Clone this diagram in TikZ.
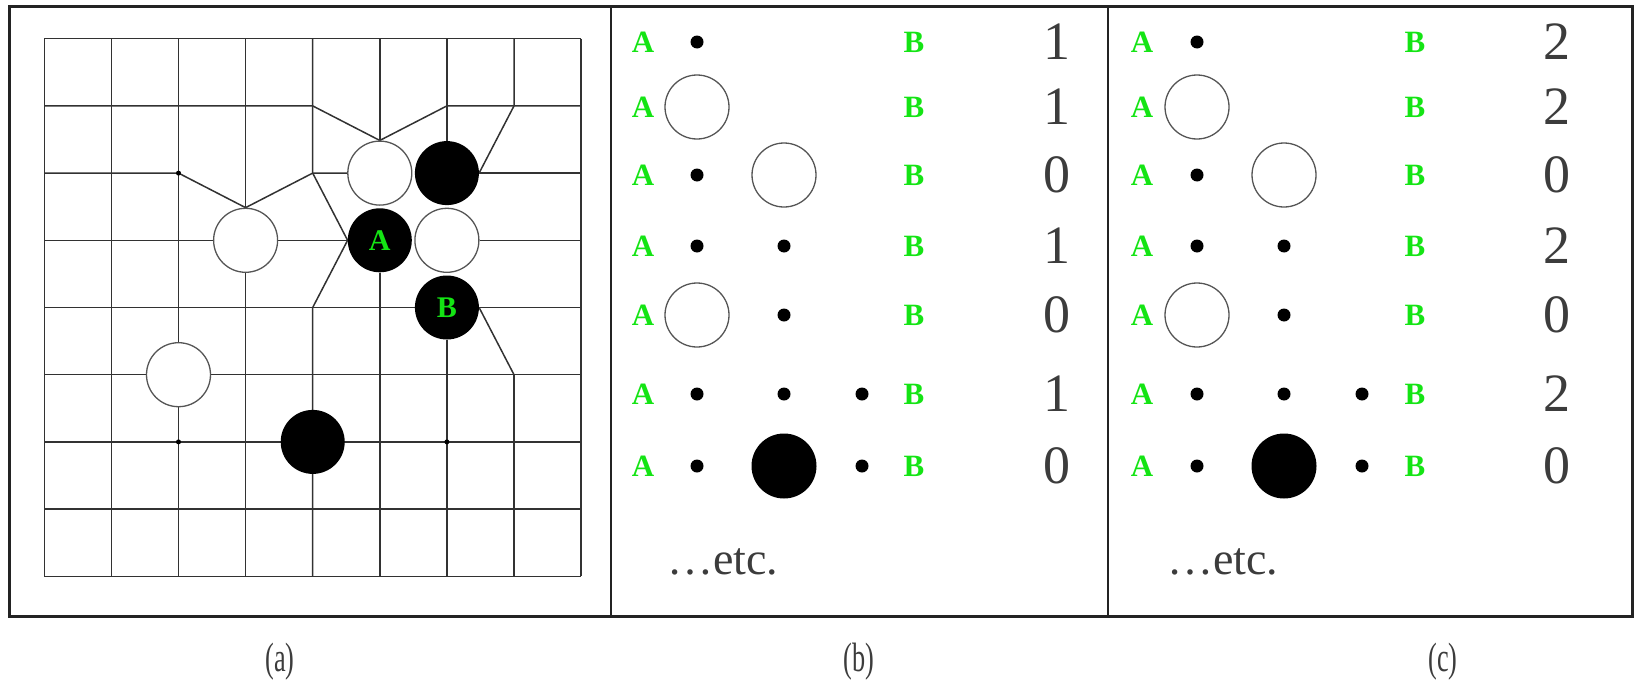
\documentclass[tikz,border=0pt]{standalone}
\usepackage{fontspec}
\setmainfont{Liberation Serif}
\usetikzlibrary{backgrounds}
\definecolor{ggreen}{RGB}{20,228,20}
\definecolor{txtgray}{RGB}{60,60,60}
\definecolor{gridcol}{RGB}{50,50,50}
\definecolor{stonecol}{RGB}{85,85,85}
\definecolor{framecol}{RGB}{35,35,35}
\begin{document}
\begin{tikzpicture}[x=1pt,y=-1pt,
  gridline/.style={line width=1.5pt, draw=gridcol, line join=round},
  wstone/.style={circle, draw=stonecol, line width=1.3pt, fill=white, minimum size=64pt, inner sep=0pt},
  bstone/.style={circle, fill=black, minimum size=64pt, inner sep=0pt, text=ggreen, font=\fontsize{30}{32}\selectfont\bfseries},
  starpt/.style={circle, fill=black, minimum size=5pt, inner sep=0pt},
  dotpt/.style={circle, fill=black, minimum size=13pt, inner sep=0pt},
  wcirc/.style={circle, draw=stonecol, line width=1.3pt, fill=white, minimum size=64pt, inner sep=0pt},
  bcirc/.style={circle, fill=black, minimum size=65pt, inner sep=0pt},
  ablabel/.style={text=ggreen, inner sep=0pt, font=\fontsize{31}{33}\selectfont\bfseries},
  numlabel/.style={text=txtgray, inner sep=0pt, font=\fontsize{54}{58}\selectfont},
  etclabel/.style={text=txtgray, inner sep=0pt, anchor=base west, font=\fontsize{46}{50}\selectfont},
  caplabel/.style={text=txtgray, inner sep=0pt, xscale=0.64, font=\fontsize{41}{44}\selectfont}]
\useasboundingbox (0,0) rectangle (1637,696);
% frame
\draw[line width=3pt, draw=framecol] (9,6) rectangle (1632,616);
\draw[line width=2pt, draw=framecol] (611,6) -- (611,616);
\draw[line width=2pt, draw=framecol] (1108,6) -- (1108,616);
% ---------------- panel (a) ----------------
\begin{scope}[shift={(44.3pt,-38.7pt)}, x=67.1pt, y=-67.2pt]
  \node[wstone] (w52) at (5,2) {};
  \node[bstone] (b62) at (6,2) {};
  \node[wstone] (w33) at (3,3) {};
  \node[bstone] (A) at (5,3) {A};
  \node[wstone] (w63) at (6,3) {};
  \node[bstone] (B) at (6,4) {B};
  \node[wstone] (w25) at (2,5) {};
  \node[bstone] (b46) at (4,6) {};
  \coordinate (j41) at (4,1);
  \coordinate (j61) at (6,1);
  \coordinate (j71) at (7,1);
  \coordinate (j22) at (2,2);
  \coordinate (j42) at (4,2);
  \coordinate (j44) at (4,4);
  \coordinate (j75) at (7,5);
  \begin{pgfonlayer}{background}
    \foreach \j in {0,6,7,8} \draw[gridline] (0,\j) -- (8,\j);
    \foreach \i in {0,1,8} \draw[gridline] (\i,0) -- (\i,8);
    % rows
    \draw[gridline] (0,1) -- (j41) -- (w52.north) -- (j61) -- (8,1);
    \draw[gridline] (0,2) -- (j22) -- (w33.north) -- (j42) -- (w52.west);
    \draw[gridline] (b62.east) -- (8,2);
    \draw[gridline] (0,3) -- (w33.west);
    \draw[gridline] (w33.east) -- (A.west);
    \draw[gridline] (w63.east) -- (8,3);
    \draw[gridline] (0,4) -- (B.west);
    \draw[gridline] (B.east) -- (8,4);
    \draw[gridline] (B.east) -- (j75);
    \draw[gridline] (0,5) -- (w25.west);
    \draw[gridline] (w25.east) -- (8,5);
    % columns
    \draw[gridline] (2,0) -- (w25.north);
    \draw[gridline] (w25.south) -- (2,8);
    \draw[gridline] (3,0) -- (w33.north);
    \draw[gridline] (w33.south) -- (3,8);
    \draw[gridline] (4,0) -- (j42) -- (A.west) -- (j44) -- (4,8);
    \draw[gridline] (5,0) -- (w52.north);
    \draw[gridline] (A.south) -- (5,8);
    \draw[gridline] (6,0) -- (b62.north);
    \draw[gridline] (B.south) -- (6,8);
    \draw[gridline] (7,0) -- (j71) -- (b62.east);
    \draw[gridline] (j75) -- (7,8);
  \end{pgfonlayer}
  \node[starpt] (s22) at (2,2) {};
  \node[starpt] (s26) at (2,6) {};
  \node[starpt] (s66) at (6,6) {};
\end{scope}
% ---------------- panels (b) and (c) ----------------
\foreach \i/\y/\nb/\nc in {1/42/1/2, 2/107/1/2, 3/175/0/0, 4/246/1/2, 5/315/0/0, 6/394/1/2, 7/466/0/0} {
  \node[ablabel] (bA\i) at (643,\y) {A};
  \node[ablabel] (bB\i) at (914,\y) {B};
  \node[numlabel] (bN\i) at (1057,\y) {\nb};
  \node[ablabel] (cA\i) at (1142,\y) {A};
  \node[ablabel] (cB\i) at (1415,\y) {B};
  \node[numlabel] (cN\i) at (1557,\y) {\nc};
}
\foreach \p/\dx in {b/0, c/500} {
  \begin{scope}[xshift=\dx pt]
    \node[dotpt] (\p-1-1) at (697,42) {};
    \node[wcirc] (\p-2-1) at (697,107) {};
    \node[dotpt] (\p-3-1) at (697,175) {};
    \node[wcirc] (\p-3-2) at (784,175) {};
    \node[dotpt] (\p-4-1) at (697,246) {};
    \node[dotpt] (\p-4-2) at (784,246) {};
    \node[wcirc] (\p-5-1) at (697,315) {};
    \node[dotpt] (\p-5-2) at (784,315) {};
    \node[dotpt] (\p-6-1) at (697,394) {};
    \node[dotpt] (\p-6-2) at (784,394) {};
    \node[dotpt] (\p-6-3) at (862,394) {};
    \node[dotpt] (\p-7-1) at (697,466) {};
    \node[bcirc] (\p-7-2) at (784,466) {};
    \node[dotpt] (\p-7-3) at (862,466) {};
    \node[etclabel] (\p-etc) at (667,574) {…etc.};
  \end{scope}
}
% captions
\node[caplabel] (capa) at (280,662) {(a)};
\node[caplabel] (capb) at (859,662) {(b)};
\node[caplabel] (capc) at (1443,662) {(c)};
\end{tikzpicture}
\end{document}
